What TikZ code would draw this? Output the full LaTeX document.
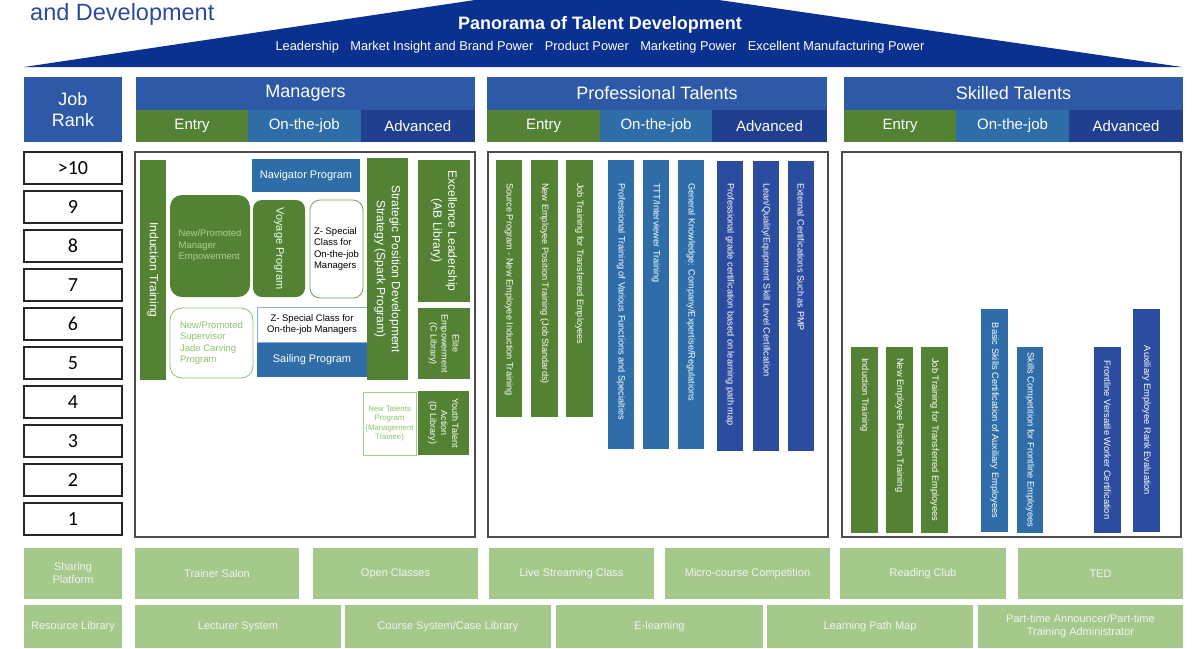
\documentclass[tikz,border=0pt]{standalone}
\usepackage{fontspec}
\setmainfont{Liberation Sans}
\newfontfamily\rankfont{Carlito}

\definecolor{banner}{HTML}{0B3190}
\definecolor{titleblue}{HTML}{2A4B9B}
\definecolor{hdrblue}{HTML}{2E59A7}
\definecolor{entrygreen}{HTML}{548235}
\definecolor{jobblue}{HTML}{2E6DA8}
\definecolor{advblue}{HTML}{203F8E}
\definecolor{barblue}{HTML}{2B4C9F}
\definecolor{paleg}{HTML}{A5C98B}
\definecolor{softg}{HTML}{A9D18E}
\definecolor{jadeg}{HTML}{8CC16B}
\definecolor{lineblue}{HTML}{8FAADC}

% box given by its corners (x1,y1) (x2,y2)
\newcommand\cellat[7][]{%
  \node[cell,#1,minimum width={(#5)-(#3)},minimum height={(#6)-(#4)}]
    (#2) at ({((#3)+(#5))/2},{((#4)+(#6))/2}) {#7};}
% text running down a bar, from its top
\newcommand\bartext[4][]{%
  \node[bartxt,#1] (#2t) at ([yshift=-#3pt]#2.north) {#4};}

\tikzset{%
  cell/.style={inner sep=0pt, outer sep=0pt, align=center, text=white},
  hdr/.style={font=\fontsize{18}{21}\selectfont},
  subhdr/.style={font=\fontsize{15}{17}\selectfont},
  bot/.style={fill=paleg, text=white!95!black, font=\fontsize{11}{13}\selectfont},
  rankbox/.style={draw=black!85, line width=1.2pt, fill=white, text=black,
                  font=\rankfont\fontsize{20}{22}\selectfont},
  panel/.style={draw=black!70, line width=1.3pt, fill=white},
  rot/.style={rotate=-90, align=center, text=white, inner sep=0pt},
  bartxt/.style={rotate=-90, anchor=west, text=white, inner sep=0pt,
                 font=\fontsize{9.2}{10}\selectfont},
  soft/.style={rounded corners=12pt},
}

\begin{document}
\begin{tikzpicture}[x=1pt,y=-1pt]
\useasboundingbox (0,0) rectangle (1198,648);

% title and banner
\node[anchor=base west, inner sep=0pt, text=titleblue, font=\fontsize{23.5}{26}\selectfont] (title) at (30,20) {and Development};
\fill[banner] (24,67) -- (475,0) -- (719,0) -- (1182,67) -- cycle;
\node[text=white, inner sep=0pt, font=\bfseries\fontsize{18}{20}\selectfont] (pano) at (600,25) {Panorama of Talent Development};
\node[text=white, inner sep=0pt, font=\fontsize{12.8}{14}\selectfont] (powers) at (600,47.5)
  {Leadership\hspace{8pt} Market Insight and Brand Power\hspace{8pt} Product Power\hspace{8pt} Marketing Power\hspace{8pt} Excellent Manufacturing Power};

% headers
\cellat[fill=hdrblue,hdr]{job}{24}{77}{122}{142}{Job\\Rank}
\foreach \g/\t/\xa/\xb/\xc/\xd in {mgr/Managers/136/248/360.5/475,
    pro/Professional Talents/487/600/712/827, skl/Skilled Talents/844/956/1069/1183}{
  \cellat[fill=hdrblue,hdr]{\g}{\xa}{77}{\xd}{110}{\t}
  \cellat[fill=entrygreen,subhdr]{\g E}{\xa}{110}{\xb}{142}{Entry}
  \cellat[fill=jobblue,subhdr]{\g O}{\xb}{110}{\xc}{142}{On-the-job}
  \cellat[fill=advblue,subhdr]{\g A}{\xc}{110}{\xd}{142}{Advanced}
}

% job ranks
\foreach \r [count=\i from 0] in {>10,9,8,7,6,5,4,3,2,1}{
  \cellat[rankbox]{rank\i}{24}{152+39*\i}{122}{184+39*\i}{\r}
}

% panels
\cellat[panel]{mgrP}{135}{152}{475}{537}{}
\cellat[panel]{proP}{488}{152}{828}{537}{}
\cellat[panel]{sklP}{842}{152}{1181}{537}{}

% managers
\cellat[fill=entrygreen]{induct}{140}{160}{166}{380}{}
\node[rot, font=\fontsize{12}{14}\selectfont] (inductt) at (induct) {Induction Training};
\cellat[fill=jobblue, font=\fontsize{11}{13}\selectfont]{nav}{252}{159}{360}{192}{Navigator Program}
\cellat[fill=entrygreen, soft, text=softg, align=left, font=\fontsize{9.5}{11.5}\selectfont]{nme}{170}{195}{250}{297}{New/Promoted\\Manager\\Empowerment}
\cellat[fill=entrygreen, rounded corners=9pt]{voy}{253}{200}{305}{297}{}
\node[rot, text=green!8!white, font=\fontsize{11}{13}\selectfont] (voyt) at (voy) {Voyage Program};
\cellat[draw=entrygreen!80, line width=0.8pt, rounded corners=10pt, text=black, align=left, font=\fontsize{9.5}{11.5}\selectfont]{zsa}{310}{200}{363}{298}{Z- Special\\Class for\\On-the-job\\Managers}
\cellat[draw=jadeg, line width=0.8pt, soft, text=jadeg, align=left, font=\fontsize{9.5}{11.5}\selectfont]{jade}{170}{308}{253}{378}{New/Promoted\\Supervisor\\Jade Carving\\Program}
\cellat[draw=lineblue, line width=0.8pt, text=black, font=\fontsize{9.5}{11.5}\selectfont]{zsb}{257}{307}{367}{342}{Z- Special Class for\\On-the-job Managers}
\cellat[fill=jobblue, font=\fontsize{11}{13}\selectfont]{sail}{257}{343}{367}{377}{Sailing Program}
\cellat[fill=entrygreen]{spark}{367}{158}{408}{380}{}
\node[rot, font=\fontsize{12}{15}\selectfont] (sparkt) at (spark) {Strategic Position Development\\Strategy (Spark Program)};
\cellat[fill=entrygreen]{excl}{418}{160}{470}{302}{}
\node[rot, font=\fontsize{12}{15}\selectfont] (exclt) at (excl) {Excellence Leadership\\(AB Library)};
\cellat[fill=entrygreen]{elite}{418}{308}{470}{379}{}
\node[rot, font=\fontsize{9}{11}\selectfont] (elitet) at (elite) {Elite\\Empowerment\\(C Library)};
\cellat[draw=jadeg!80, line width=0.8pt, text=jadeg, font=\fontsize{7.8}{9.5}\selectfont]{ntal}{363}{392}{416}{455}{New Talents\\Program\\(Management\\Trainee)}
\cellat[fill=entrygreen]{youth}{418}{391}{469}{455}{}
\node[rot, font=\fontsize{9}{11}\selectfont] (youtht) at (youth) {Youth Talent\\Action\\(D Library)};

% professional talents
\cellat[fill=entrygreen]{p1}{496}{160}{522}{417}{}
\cellat[fill=entrygreen]{p2}{531}{160}{558}{417}{}
\cellat[fill=entrygreen]{p3}{566}{160}{593}{417}{}
\cellat[fill=jobblue]{p4}{608}{160}{634}{449}{}
\cellat[fill=jobblue]{p5}{643}{160}{669}{449}{}
\cellat[fill=jobblue]{p6}{678}{160}{704}{449}{}
\cellat[fill=barblue]{p7}{717}{161}{743}{451}{}
\cellat[fill=barblue]{p8}{753}{161}{779}{451}{}
\cellat[fill=barblue]{p9}{788}{161}{814}{451}{}
\bartext{p1}{23}{Source Program - New Employee Induction Training}
\bartext{p2}{23}{New Employee Position Training (Job Standards)}
\bartext{p3}{23}{Job Training for Transferred Employees}
\bartext{p4}{23}{Professional Training of Various Functions and Specialties}
\bartext{p5}{23}{TTT/Interviewer Training}
\bartext{p6}{23}{General Knowledge: Company/Expertise/Regulations}
\bartext{p7}{22}{Professional grade certification based on learning path map}
\bartext{p8}{22}{Lean/Quality/Equipment Skill Level Certification}
\bartext{p9}{22}{External Certifications Such as PMP}

% skilled talents
\cellat[fill=entrygreen]{s1}{851}{347}{878}{533}{}
\cellat[fill=entrygreen]{s2}{886}{347}{913}{533}{}
\cellat[fill=entrygreen]{s3}{921}{347}{948}{533}{}
\cellat[fill=jobblue]{s4}{981}{309}{1008}{532}{}
\cellat[fill=jobblue]{s5}{1017}{347}{1043}{533}{}
\cellat[fill=barblue]{s6}{1094}{347}{1121}{533}{}
\cellat[fill=barblue]{s7}{1133}{309}{1160}{532}{}
\bartext[font=\fontsize{9.3}{11}\selectfont]{s1}{11}{Induction Training}
\bartext[font=\fontsize{9.3}{11}\selectfont]{s2}{11}{New Employee Position Training}
\bartext[font=\fontsize{9.3}{11}\selectfont]{s3}{11}{Job Training for Transferred Employees}
\node[rot, font=\fontsize{9.3}{11}\selectfont] (s4t) at (s4) {Basic Skills Certification of Auxiliary Employees};
\node[rot, font=\fontsize{9.3}{11}\selectfont] (s5t) at (s5) {Skills Competition for Frontline Employees};
\node[rot, font=\fontsize{9.3}{11}\selectfont] (s6t) at (s6) {Frontline Versatile Worker Certification};
\node[rot, font=\fontsize{9.3}{11}\selectfont] (s7t) at (s7) {Auxiliary Employee Rank Evaluation};

% sharing platform
\cellat[bot]{share}{24}{548}{122}{599}{Sharing\\Platform}
\cellat[bot]{trainer}{135}{548}{299}{599}{Trainer Salon}
\cellat[bot]{open}{313}{548}{478}{599}{Open Classes}
\cellat[bot]{live}{489}{548}{654}{599}{Live Streaming Class}
\cellat[bot]{micro}{665}{548}{830}{599}{Micro-course Competition}
\cellat[bot]{reading}{840}{548}{1006}{599}{Reading Club}
\cellat[bot]{ted}{1018}{548}{1183}{599}{TED}

% resource library
\cellat[bot]{resource}{24}{605}{122}{648}{Resource Library}
\cellat[bot]{lecturer}{135}{605}{341}{648}{Lecturer System}
\cellat[bot]{course}{345}{605}{551}{648}{Course System/Case Library}
\cellat[bot]{elearn}{556}{605}{763}{648}{E-learning}
\cellat[bot]{lpm}{767}{605}{973}{648}{Learning Path Map}
\cellat[bot]{parttime}{978}{605}{1183}{648}{Part-time Announcer/Part-time\\Training Administrator}
\end{tikzpicture}
\end{document}
